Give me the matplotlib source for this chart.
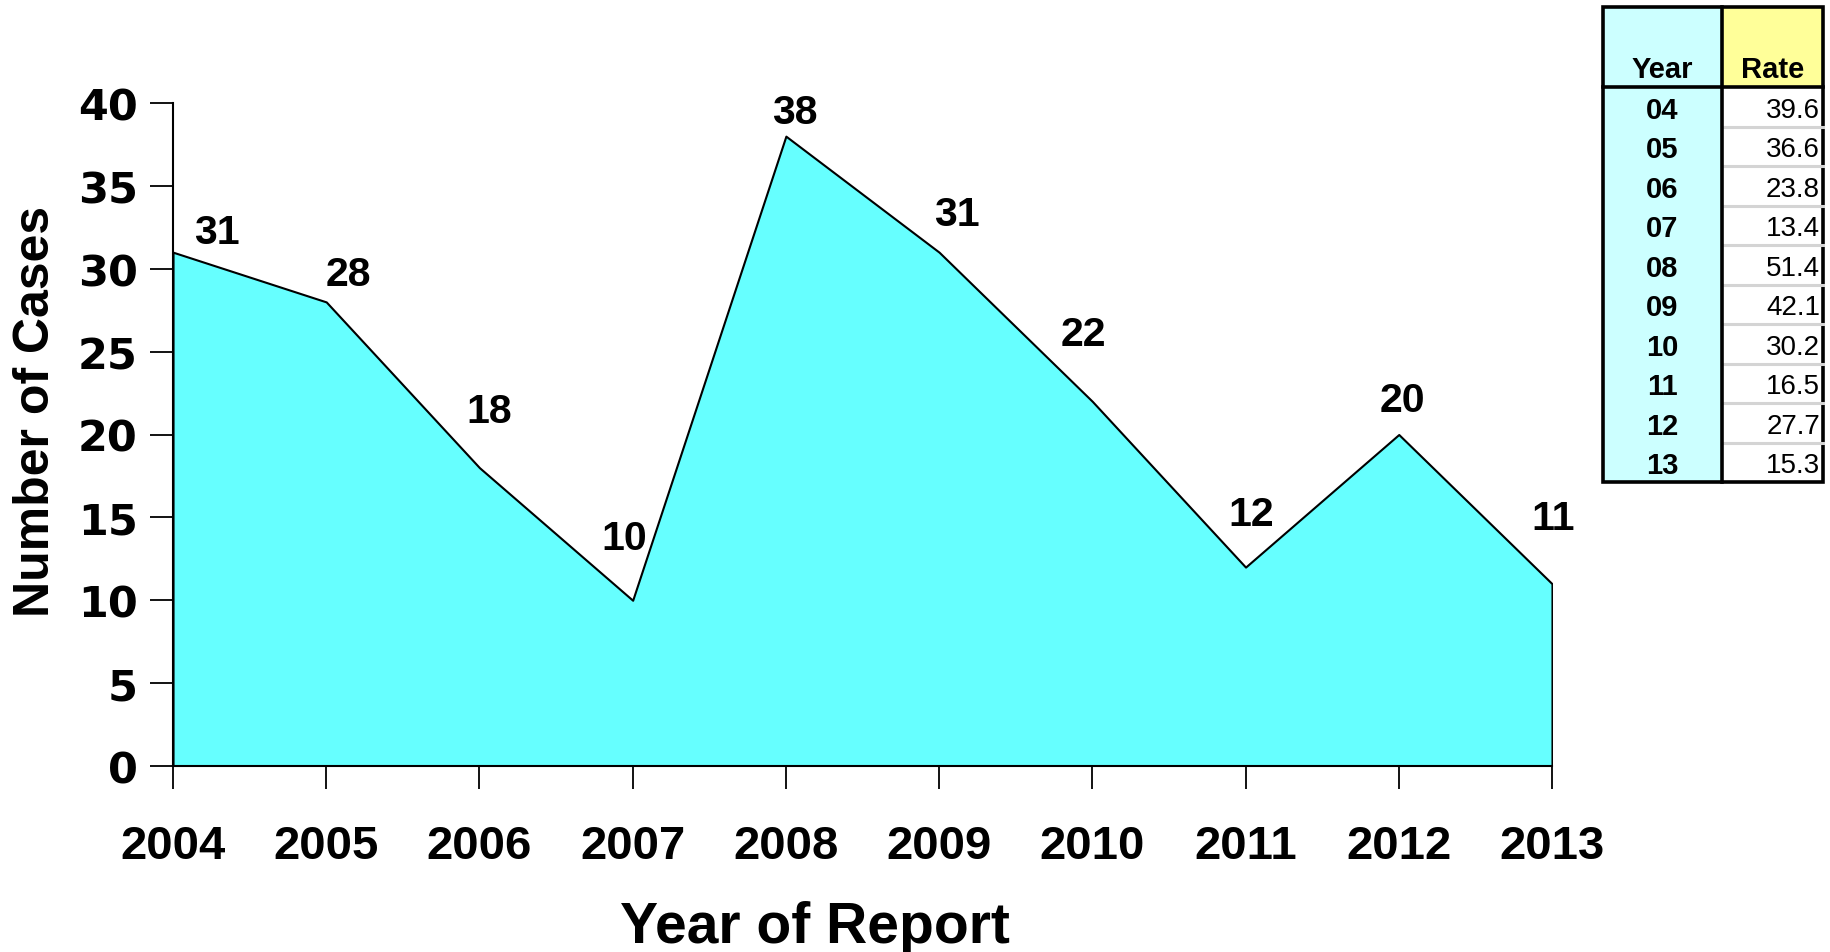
import matplotlib
matplotlib.use("Agg")
import matplotlib.pyplot as plt
from matplotlib.patches import Rectangle

# ---- data ----
years = [2004, 2005, 2006, 2007, 2008, 2009, 2010, 2011, 2012, 2013]
cases = [31, 28, 18, 10, 38, 31, 22, 12, 20, 11]
table_years = ["04", "05", "06", "07", "08", "09", "10", "11", "12", "13"]
table_rates = ["39.6", "36.6", "23.8", "13.4", "51.4", "42.1", "30.2", "16.5", "27.7", "15.3"]
y_ticks = [0, 5, 10, 15, 20, 25, 30, 35, 40]

# label offsets (pixels) relative to each point
label_dx = [44, 22, 10, -8, 9, 18, -9, 6, 4, 1]
label_dy = [20, 28, 57, 62, 24, 38, 67, 53, 34, 66]

W, H = 1830, 953
fig = plt.figure(figsize=(W / 100, H / 100), dpi=100)
fig.patch.set_facecolor("white")

ax = fig.add_axes([173 / W, 1 - 767 / H, (1552 - 173) / W, (767 - 104) / H])
ax.fill_between(years, cases, 0, facecolor="#66FFFF", edgecolor="black",
                linewidth=1.5, zorder=2)
ax.set_xlim(years[0], years[-1])
ax.set_ylim(0, 40)
ax.set_yticks(y_ticks)
ax.set_xticks(years)
ax.set_xticklabels([str(y) for y in years], fontfamily="Liberation Sans",
                   fontweight="bold", fontsize=34)
ax.set_yticklabels([str(v) for v in y_ticks], fontfamily="DejaVu Sans",
                   fontweight="bold", fontsize=31)
ax.tick_params(axis="x", direction="out", length=16.5, width=1.3, pad=25)
ax.tick_params(axis="y", direction="out", length=16.5, width=1.3, pad=9)
for s in ["top", "right"]:
    ax.spines[s].set_visible(False)
for s in ["left", "bottom"]:
    ax.spines[s].set_linewidth(1.5)
    ax.spines[s].set_zorder(3)
ax.set_facecolor("none")

for x, y, dx, dy in zip(years, cases, label_dx, label_dy):
    ax.annotate(str(y), (x, y), xytext=(dx, dy), textcoords="offset pixels",
                ha="center", va="center", fontfamily="Liberation Sans",
                fontweight="bold", fontsize=29.5, zorder=4)

fig.text(36 / W, 1 - 412 / H, "Number of Cases", rotation=90, ha="center",
         va="center", fontfamily="Liberation Sans", fontweight="bold", fontsize=36)
fig.text(815 / W, 1 - 928 / H, "Year of Report", ha="center", va="center",
         fontfamily="Liberation Sans", fontweight="bold", fontsize=41)

# ---- table (pixel coordinate overlay) ----
tax = fig.add_axes([0, 0, 1, 1])
tax.set_xlim(0, W)
tax.set_ylim(H, 0)
tax.axis("off")
tax.set_zorder(5)

L, R, T, B, D, HB = 1603, 1823, 8, 483, 1722, 88
rh = (B - HB) / len(table_years)
tax.add_patch(Rectangle((L, T), D - L, B - T, facecolor="#CCFFFF", edgecolor="none"))
tax.add_patch(Rectangle((D, T), R - D, HB - T, facecolor="#FFFF99", edgecolor="none"))
tax.add_patch(Rectangle((D, HB), R - D, B - HB, facecolor="white", edgecolor="none"))
for i in range(1, len(table_years)):
    yy = HB + i * rh
    tax.plot([D, R], [yy, yy], color="#D4D4D4", linewidth=2.2)
tax.add_patch(Rectangle((L, T), R - L, B - T, facecolor="none", edgecolor="black", linewidth=2.6))
tax.plot([D, D], [T, B], color="black", linewidth=2.6)
tax.plot([L, R], [HB, HB], color="black", linewidth=2.6)

tax.text((L + D) / 2, 78, "Year", ha="center", va="baseline",
         fontfamily="Liberation Sans", fontweight="bold", fontsize=21)
tax.text((D + R) / 2, 78, "Rate", ha="center", va="baseline",
         fontfamily="Liberation Sans", fontweight="bold", fontsize=21)
for i, (yr, rt) in enumerate(zip(table_years, table_rates)):
    yc = HB + (i + 0.5) * rh + 3
    tax.text((L + D) / 2, yc, yr, ha="center", va="center",
             fontfamily="Liberation Sans", fontweight="bold", fontsize=21)
    tax.text(R - 3, yc, rt, ha="right", va="center",
             fontfamily="Liberation Sans", fontsize=20)

fig.savefig("out.png", dpi=100)
